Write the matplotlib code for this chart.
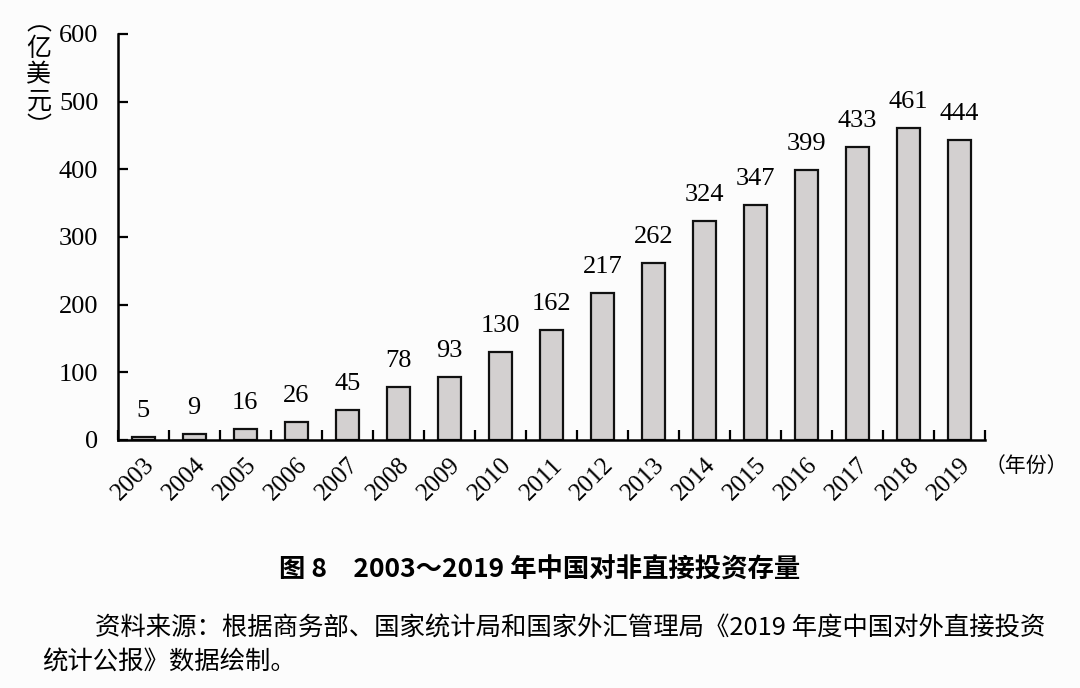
import matplotlib.pyplot as plt
import numpy as np

years = [str(y) for y in range(2003, 2020)]
stock = [5, 9, 16, 26, 45, 78, 93, 130, 162, 217, 262, 324, 347, 399, 433, 461, 444]
y_ticks = [0, 100, 200, 300, 400, 500, 600]

SERIF = ["Liberation Serif", "Noto Sans CJK SC"]
CJK = ["Noto Sans CJK SC", "DejaVu Sans"]

fig = plt.figure(figsize=(10.8, 6.88), dpi=100)
fig.patch.set_facecolor("#fcfcfc")
ax = fig.add_axes([0.109, 0.3605, 0.803, 0.5901])
ax.set_facecolor("#fcfcfc")

x = np.arange(len(years))
ax.bar(x, stock, width=0.45, color="#d3d0d0", edgecolor="#111111", linewidth=1.6)

for xi, v in zip(x, stock):
    ax.text(xi, v + 22, str(v), ha="center", va="bottom", fontsize=19, family=SERIF)

ax.set_xlim(-0.5, len(years) - 0.5)
ax.set_ylim(0, 600)
ax.set_yticks(y_ticks)
ax.set_yticklabels([str(t) for t in y_ticks], family=SERIF, fontsize=19)
ax.set_xticks(x)
ax.set_xticklabels(years, rotation=45, ha="right", rotation_mode="anchor",
                   family=SERIF, fontsize=18)
ax.tick_params(axis="x", which="major", length=0, pad=10)
ax.set_xticks(np.arange(-0.5, len(years)), minor=True)
ax.tick_params(axis="x", which="minor", direction="in", length=7, width=1.6)
ax.tick_params(axis="y", direction="in", length=7, width=1.6, pad=14)

for s in ["top", "right"]:
    ax.spines[s].set_visible(False)
for s in ["left", "bottom"]:
    ax.spines[s].set_linewidth(1.8)

fig.text(0.036, 0.985, "︵\n亿\n美\n元\n︶", ha="center", va="top", fontsize=18,
         family=CJK, linespacing=1.0)
fig.text(0.912, 0.322, "（年份）", ha="left", va="center", fontsize=15, family=CJK)

fig.text(0.5, 0.171, "图 8　2003～2019 年中国对非直接投资存量", ha="center", va="center",
         fontsize=19, fontweight="bold", family=CJK)
fig.text(0.088, 0.087, "资料来源：根据商务部、国家统计局和国家外汇管理局《2019 年度中国对外直接投资",
         ha="left", va="center", fontsize=18.3, family=CJK)
fig.text(0.039, 0.037, "统计公报》数据绘制。", ha="left", va="center", fontsize=18.3, family=CJK)

fig.savefig("out.png", dpi=100, facecolor=fig.get_facecolor())
